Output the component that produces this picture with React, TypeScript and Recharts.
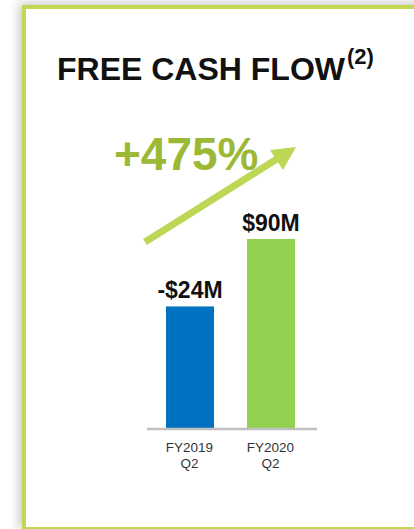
import React from 'react';
import { BarChart, Bar, XAxis, YAxis, LabelList } from 'recharts';

// Free cash flow, FY Q2 comparison
const periods = ['FY2019', 'FY2020'];
const quarters = ['Q2', 'Q2'];
const cashFlow = [-24, 90]; // $M, shown as labels
const barHeights = [64.5, 100]; // drawn bar size (bars show magnitude, not to scale)
const barColors = ['#0070C0', '#92D050'];
const growthLabel = '+475%';

const data = periods.map((p, i) => ({
  period: p,
  quarter: quarters[i],
  height: barHeights[i],
  value: cashFlow[i],
  color: barColors[i],
}));

const fmtMoney = (v: number) => (v < 0 ? `-$${Math.abs(v)}M` : `$${v}M`);

const FONT = '"Liberation Sans", Arial, sans-serif';

const PeriodTick = (props: any) => {
  const { x, y, payload, index } = props;
  return (
    <text x={x} y={y} textAnchor="middle" fill="#333333" fontSize={13.5} fontFamily={FONT}>
      <tspan x={x} dy={21}>{payload.value}</tspan>
      <tspan x={x} dy={16}>{quarters[index]}</tspan>
    </text>
  );
};

const ValueLabel = (props: any) => {
  const { x, y, width, index } = props;
  return (
    <text
      x={x + width / 2}
      y={y - 8}
      textAnchor="middle"
      fill="#111111"
      fontSize={23}
      fontWeight="bold"
      fontFamily={FONT}
    >
      {fmtMoney(cashFlow[index])}
    </text>
  );
};

export default function App() {
  return (
    <div
      style={{
        position: 'absolute',
        left: 0,
        top: 0,
        width: 414,
        height: 529,
        overflow: 'hidden',
        background: '#ffffff',
      }}
    >
      {/* green frame */}
      <div
        style={{
          position: 'absolute',
          left: 22,
          top: 5,
          width: 500,
          height: 526,
          boxSizing: 'border-box',
          border: '4px solid #C0D955',
          boxShadow: '-3px -2px 10px rgba(0,0,0,0.22)',
          background: '#ffffff',
        }}
      />

      <div style={{ position: 'absolute', left: 0, top: 0 }}>
        <BarChart
          width={414}
          height={529}
          data={data}
          margin={{ top: 239, right: 97, bottom: 60, left: 147 }}
        >
          <YAxis hide domain={[0, 100]} />
          <XAxis
            dataKey="period"
            height={40}
            interval={0}
            tickLine={false}
            tickSize={0}
            axisLine={{ stroke: '#BFBFBF', strokeWidth: 2.5 }}
            padding={{ left: 2, right: 6 }}
            tick={<PeriodTick />}
          />
          <Bar dataKey="height" barSize={48} isAnimationActive={false} shape={(p: any) => (
            <rect x={p.x} y={p.y} width={p.width} height={p.height} fill={p.payload.color} />
          )}>
            <LabelList dataKey="value" content={<ValueLabel />} />
          </Bar>
        </BarChart>
      </div>

      {/* title, growth callout and arrow */}
      <svg
        width={414}
        height={529}
        style={{ position: 'absolute', left: 0, top: 0, pointerEvents: 'none' }}
      >
        <text x={57} y={80} fontSize={32} fontWeight="bold" fill="#111111" fontFamily={FONT}>
          FREE CASH FLOW
        </text>
        <text x={347} y={64} fontSize={22} fontWeight="bold" fill="#111111" fontFamily={FONT}>
          (2)
        </text>
        <text x={114} y={170} fontSize={46} fontWeight="bold" fill="#9BB935" fontFamily={FONT}>
          {growthLabel}
        </text>
        <line x1={145} y1={242} x2={280} y2={157} stroke="#BCD754" strokeWidth={7} />
        <polygon points="296,147 270,150 283,170" fill="#BCD754" />
      </svg>
    </div>
  );
}
